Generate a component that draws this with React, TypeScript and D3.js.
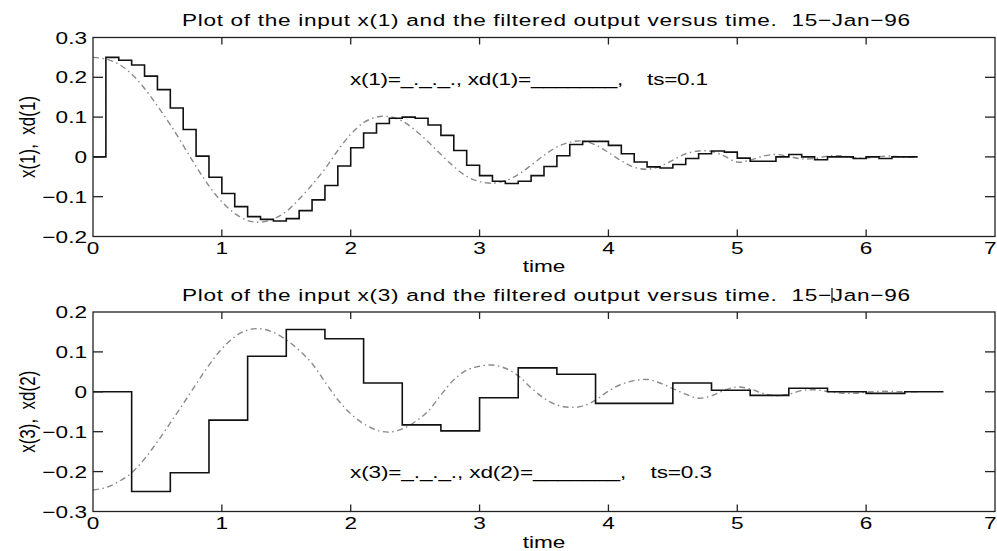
import React from 'react';
import * as d3 from 'd3';

// ---------- data ----------
const TIME_TICKS = [0, 1, 2, 3, 4, 5, 6, 7];
const TOP_Y_TICKS = [-0.2, -0.1, 0, 0.1, 0.2, 0.3];
const BOTTOM_Y_TICKS = [-0.3, -0.2, -0.1, 0, 0.1, 0.2];

const CURVE_DT = 0.1; // spacing of the continuous input samples
const TS_TOP = 0.1;
const TS_BOTTOM = 0.3;

// continuous input x(1), t = 0 .. 6.4
const x1Input = [
  0.250, 0.246, 0.233, 0.208, 0.172, 0.128, 0.081, 0.029, -0.024, -0.073,
  -0.113, -0.142, -0.160, -0.164, -0.156, -0.137, -0.106, -0.070, -0.030, 0.016,
  0.057, 0.086, 0.100, 0.101, 0.090, 0.067, 0.038, 0.006, -0.024, -0.049,
  -0.062, -0.066, -0.060, -0.044, -0.021, 0.004, 0.025, 0.037, 0.040, 0.030,
  0.011, -0.010, -0.026, -0.031, -0.024, -0.008, 0.008, 0.015, 0.014, 0.002,
  -0.013, -0.008, 0.002, 0.006, 0.001, -0.005, -0.004, 0.002, 0.003, -0.002,
  -0.003, 0.001, 0.002, -0.001, 0.000,
];

// filtered output xd(1), one value per ts = 0.1 interval
const xd1Output = [
  0, 0.250, 0.243, 0.231, 0.203, 0.169, 0.123, 0.069, 0.002, -0.051,
  -0.092, -0.125, -0.150, -0.157, -0.161, -0.155, -0.135, -0.108, -0.072, -0.023,
  0.023, 0.060, 0.084, 0.097, 0.100, 0.097, 0.080, 0.054, 0.016, -0.021,
  -0.047, -0.061, -0.067, -0.061, -0.047, -0.024, 0.003, 0.031, 0.039, 0.039,
  0.029, 0.008, -0.013, -0.025, -0.028, -0.019, -0.004, 0.008, 0.015, 0.012,
  -0.003, -0.011, -0.011, 0.000, 0.006, 0.000, -0.007, 0.000, 0.000, -0.004,
  0.000, -0.004, 0.000, 0.000,
];

// continuous input x(3), t = 0 .. 6.4
const x3Input = [
  -0.246, -0.240, -0.225, -0.203, -0.168, -0.125, -0.078, -0.030, 0.019, 0.067,
  0.108, 0.138, 0.155, 0.158, 0.149, 0.130, 0.104, 0.071, 0.025, -0.020,
  -0.055, -0.080, -0.096, -0.101, -0.093, -0.075, -0.049, -0.008, 0.030, 0.054,
  0.064, 0.067, 0.059, 0.040, 0.010, -0.016, -0.033, -0.039, -0.036, -0.021,
  0.002, 0.019, 0.028, 0.031, 0.022, 0.008, -0.006, -0.016, -0.010, 0.004,
  0.012, 0.007, -0.004, -0.010, -0.006, 0.003, 0.005, 0.001, -0.003, -0.004,
  -0.001, 0.001, 0.001, 0.000, 0.000,
];

// filtered output xd(2), one value per ts = 0.3 interval
const xd2Output = [
  0, -0.250, -0.203, -0.071, 0.089, 0.156, 0.133, 0.022, -0.083, -0.098,
  -0.015, 0.060, 0.044, -0.029, -0.029, 0.022, 0.004, -0.009, 0.009, 0.000,
  -0.004, 0.000,
];

const TOP_TITLE = 'Plot of the input x(1) and the filtered output versus time.  15\u2212Jan\u221296';
const BOTTOM_TITLE = 'Plot of the input x(3) and the filtered output versus time.  15\u2212Jan\u221296';
const TOP_LEGEND = 'x(1)=_._._., xd(1)=_______,    ts=0.1';
const BOTTOM_LEGEND = 'x(3)=_._._., xd(2)=_______,    ts=0.3';
const TOP_YLABEL = 'x(1),  xd(1)';
const BOTTOM_YLABEL = 'x(3),  xd(2)';
const XLABEL = 'time';

// ---------- layout ----------
const W = 997;
const H = 551;
const X0 = 93;
const X1 = 995;
const SX = 1.33; // horizontal stretch of the glyphs
const FONT = "'Liberation Sans', Arial, Helvetica, sans-serif";
const FS = 17;

const xScale = d3.scaleLinear().domain([0, 7]).range([X0, X1]);

const fmt = (d: number) => (d === 0 ? '0' : (d < 0 ? '\u2212' : '') + Math.abs(d).toFixed(1));

function T(props: {
  x: number; y: number; anchor?: string; len?: number; children: React.ReactNode; rotate?: boolean;
}) {
  const { x, y, anchor = 'start', len, children, rotate } = props;
  return (
    <text
      transform={`translate(${x},${y}) scale(${SX},1)${rotate ? ' rotate(-90)' : ''}`}
      textAnchor={anchor}
      fontFamily={FONT}
      fontSize={FS}
      fill="#000"
      textLength={len ? len / SX : undefined}
      lengthAdjust={len ? 'spacing' : undefined}
      style={{ whiteSpace: 'pre' }}
    >
      {children}
    </text>
  );
}

type PanelProps = {
  top: number;
  bottom: number;
  yDomain: [number, number];
  yTicks: number[];
  steps: number[];
  ts: number;
  curve: number[];
  title: string;
  titleY: number;
  legend: string;
  legendY: number;
  legendLen: number;
  ylabel: string;
  xlabelY: number;
};

function Panel(p: PanelProps) {
  const y = d3.scaleLinear().domain(p.yDomain).range([p.bottom, p.top]);
  const stepPts: [number, number][] = p.steps.map((v, i) => [i * p.ts, v]);
  stepPts.push([p.steps.length * p.ts, p.steps[p.steps.length - 1]]);
  const curvePts: [number, number][] = p.curve.map((v, i) => [i * CURVE_DT, v]);

  const stepLine = d3
    .line<[number, number]>()
    .x((d) => xScale(d[0]))
    .y((d) => y(d[1]))
    .curve(d3.curveStepAfter);
  const smoothLine = d3
    .line<[number, number]>()
    .x((d) => xScale(d[0]))
    .y((d) => y(d[1]))
    .curve(d3.curveCatmullRom.alpha(0.5));

  const innerX = TIME_TICKS.filter((t) => t > 0 && t < 7);
  const innerY = p.yTicks.filter((t) => t > p.yDomain[0] && t < p.yDomain[1]);

  return (
    <g>
      <path d={smoothLine(curvePts) || ''} fill="none" stroke="#8a8a8a" strokeWidth={1.4}
        strokeDasharray="6,3.5,1.5,3.5" />
      <path d={stepLine(stepPts) || ''} fill="none" stroke="#111" strokeWidth={1.6} />
      <rect x={X0} y={p.top} width={X1 - X0} height={p.bottom - p.top} fill="none" stroke="#222" strokeWidth={1.3} />
      {innerX.map((t) => (
        <g key={'xt' + t}>
          <line x1={xScale(t)} x2={xScale(t)} y1={p.bottom} y2={p.bottom - 7} stroke="#222" strokeWidth={1.3} />
          <line x1={xScale(t)} x2={xScale(t)} y1={p.top} y2={p.top + 7} stroke="#222" strokeWidth={1.3} />
        </g>
      ))}
      {innerY.map((t) => (
        <g key={'yt' + t}>
          <line x1={X0} x2={X0 + 10} y1={y(t)} y2={y(t)} stroke="#222" strokeWidth={1.3} />
          <line x1={X1} x2={X1 - 10} y1={y(t)} y2={y(t)} stroke="#222" strokeWidth={1.3} />
        </g>
      ))}
      {TIME_TICKS.map((t) =>
        t === 7 ? (
          <T key={'xl' + t} x={W - 0.5} y={p.bottom + 17.5} anchor="end">{String(t)}</T>
        ) : (
          <T key={'xl' + t} x={xScale(t)} y={p.bottom + 17.5} anchor="middle">{String(t)}</T>
        )
      )}
      {p.yTicks.map((t) => (
        <T key={'yl' + t} x={87} y={y(t) + 6} anchor="end">{fmt(t)}</T>
      ))}
      <T x={182} y={p.titleY} len={728}>{p.title}</T>
      <T x={350} y={p.legendY} len={p.legendLen}>{p.legend}</T>
      <T x={(X0 + X1) / 2} y={p.xlabelY} anchor="middle">{XLABEL}</T>
      <T x={35} y={(p.top + p.bottom) / 2} anchor="middle" rotate>{p.ylabel}</T>
    </g>
  );
}

export default function App() {
  return (
    <svg width={W} height={H} viewBox={`0 0 ${W} ${H}`}
      style={{ position: 'absolute', left: 0, top: 0, background: '#fff' }}>
      <rect x={0} y={0} width={W} height={H} fill="#fff" />
      <Panel
        top={37.5} bottom={236.5} yDomain={[-0.2, 0.3]} yTicks={TOP_Y_TICKS}
        steps={xd1Output} ts={TS_TOP} curve={x1Input}
        title={TOP_TITLE} titleY={26} legend={TOP_LEGEND} legendY={85} legendLen={358}
        ylabel={TOP_YLABEL} xlabelY={272}
      />
      <Panel
        top={312} bottom={511.5} yDomain={[-0.3, 0.2]} yTicks={BOTTOM_Y_TICKS}
        steps={xd2Output} ts={TS_BOTTOM} curve={x3Input}
        title={BOTTOM_TITLE} titleY={301} legend={BOTTOM_LEGEND} legendY={478} legendLen={362}
        ylabel={BOTTOM_YLABEL} xlabelY={548}
      />
      <line x1={832} x2={832} y1={288} y2={303} stroke="#000" strokeWidth={1.2} />
    </svg>
  );
}
